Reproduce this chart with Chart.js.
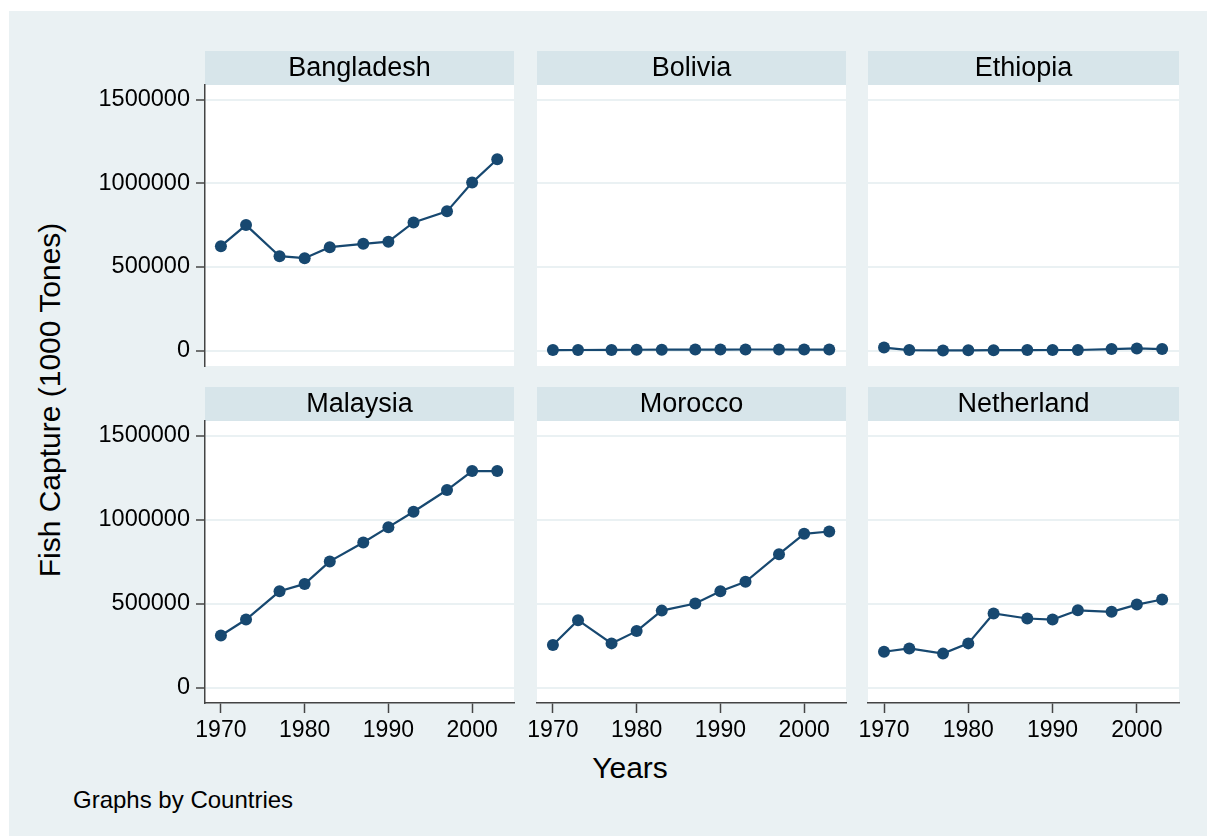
<!DOCTYPE html>
<html>
<head>
<meta charset="utf-8">
<title>Fish Capture by Country</title>
<script src="https://cdn.jsdelivr.net/npm/chart.js@4.4.1/dist/chart.umd.min.js"></script>
<style>
  html, body { margin: 0; padding: 0; background: #ffffff; }
  body { width: 1207px; height: 836px; position: relative; overflow: hidden;
         font-family: "Liberation Sans", Arial, Helvetica, sans-serif; color: #000; }
  #frame { position: absolute; left: 9px; top: 11px; width: 1198px; height: 825px; background: #eaf1f3; }
  canvas { position: absolute; }
  .txt { position: absolute; white-space: nowrap; color: #000; }
  #ytitle { left: 50px; top: 400px; font-size: 30px; line-height: 30px;
            transform: translate(-50%, -50%) rotate(-90deg); }
  #xtitle { left: 630px; top: 753px; font-size: 30px; line-height: 30px; transform: translateX(-50%); }
  #note { left: 73px; top: 788px; font-size: 24px; line-height: 24px; }
</style>
</head>
<body>
<div id="frame"></div>
<div class="txt" id="ytitle">Fish Capture (1000 Tones)</div>
<div class="txt" id="xtitle">Years</div>
<div class="txt" id="note">Graphs by Countries</div>

<script>
// ---- data ----
const years = [1970, 1973, 1977, 1980, 1983, 1987, 1990, 1993, 1997, 2000, 2003];
const countries = ['Bangladesh', 'Bolivia', 'Ethiopia', 'Malaysia', 'Morocco', 'Netherland'];

const bangladesh = [624000, 750000, 564000, 552000, 618000, 638000, 651000, 766000, 832000, 1004000, 1143000];
const bolivia    = [3000, 3500, 4000, 5000, 5500, 6000, 6000, 6500, 6500, 6000, 6000];
const ethiopia   = [18000, 3000, 1000, 1500, 2500, 3000, 3500, 3500, 9000, 13000, 9000];
const malaysia   = [310000, 405000, 573000, 617000, 751000, 864000, 955000, 1047000, 1176000, 1289000, 1289000];
const morocco    = [253000, 401000, 263000, 336000, 458000, 500000, 573000, 630000, 794000, 915000, 929000];
const netherland = [213000, 233000, 202000, 263000, 441000, 411000, 405000, 460000, 451000, 494000, 524000];

const seriesByCountry = [bangladesh, bolivia, ethiopia, malaysia, morocco, netherland];

const yTicks = [0, 500000, 1000000, 1500000];
const xTicks = [1970, 1980, 1990, 2000];

// ---- styling ----
const FONT = '"Liberation Sans", Arial, Helvetica, sans-serif';
const NAVY = '#174870';
const GRID = '#eaf1f3';
const STRIP = '#d7e5ea';
const AXIS = '#444444';
const STRIP_H = 34;

Chart.defaults.font.family = FONT;
Chart.defaults.color = '#000000';

// panel placement (plot-area edges on the page)
const colLeft  = [205, 537, 868];
const colRight = [516, 848, 1181];
const rowStripTop = [51, 387];
const rowPlotBottom = [368, 703];
const Y_AXIS_W = 125;
const X_AXIS_H = 42;

// white plot area plus the shaded title strip above it
const panelFrame = {
  id: 'panelFrame',
  beforeDraw(chart, args, opts) {
    const { ctx, chartArea: a } = chart;
    ctx.save();
    ctx.fillStyle = '#ffffff';
    ctx.fillRect(a.left, a.top, a.right - a.left, a.bottom - a.top);
    ctx.fillStyle = STRIP;
    ctx.fillRect(a.left, a.top - STRIP_H, a.right - a.left, STRIP_H);
    ctx.fillStyle = '#000000';
    ctx.font = '27px ' + FONT;
    ctx.textAlign = 'center';
    ctx.textBaseline = 'alphabetic';
    ctx.fillText(opts.title, (a.left + a.right) / 2, a.top - 9);
    ctx.restore();
  }
};

countries.forEach((name, i) => {
  const row = Math.floor(i / 3);
  const col = i % 3;
  const firstCol = col === 0;
  const bottomRow = row === 1;

  const padL = firstCol ? 0 : 20;
  const padR = 4;
  const padB = bottomRow ? 0 : 4;
  const canvasLeft = colLeft[col] - (firstCol ? Y_AXIS_W : padL);
  const canvasTop = rowStripTop[row];
  const width = colRight[col] - canvasLeft + padR;
  const height = rowPlotBottom[row] - canvasTop + (bottomRow ? X_AXIS_H : padB);

  const canvas = document.createElement('canvas');
  canvas.width = width;
  canvas.height = height;
  canvas.style.left = canvasLeft + 'px';
  canvas.style.top = canvasTop + 'px';
  document.body.appendChild(canvas);

  new Chart(canvas, {
    type: 'line',
    data: {
      labels: years,
      datasets: [{
        label: name,
        data: years.map((yr, k) => ({ x: yr, y: seriesByCountry[i][k] })),
        borderColor: NAVY,
        backgroundColor: NAVY,
        borderWidth: 2.2,
        pointRadius: 6,
        pointHoverRadius: 6,
        pointBackgroundColor: NAVY,
        pointBorderWidth: 0,
        tension: 0,
        clip: false
      }]
    },
    options: {
      responsive: false,
      animation: false,
      events: [],
      layout: { padding: { top: STRIP_H, left: padL, right: padR, bottom: padB } },
      plugins: {
        legend: { display: false },
        tooltip: { enabled: false },
        title: { display: false },
        panelFrame: { title: name }
      },
      scales: {
        x: {
          type: 'linear',
          min: 1968.1,
          max: 2005,
          display: bottomRow,
          afterBuildTicks: s => { s.ticks = xTicks.map(v => ({ value: v })); },
          afterFit: s => { s.height = bottomRow ? X_AXIS_H : 0; },
          grid: { drawOnChartArea: false, drawTicks: true, tickLength: 10,
                  tickColor: AXIS, tickWidth: 1.5 },
          border: { display: true, color: AXIS, width: 1.5 },
          ticks: { font: { size: 23 }, color: '#000000', padding: 4,
                   maxRotation: 0, autoSkip: false, callback: v => String(v) }
        },
        y: {
          type: 'linear',
          min: -92000,
          max: 1587000,
          afterBuildTicks: s => { s.ticks = yTicks.map(v => ({ value: v })); },
          afterFit: s => {
            s.width = firstCol ? Y_AXIS_W : 0;
            s.paddingTop = 0;
            s.paddingBottom = 0;
          },
          grid: { color: GRID, lineWidth: 2, drawTicks: firstCol, tickLength: 9,
                  tickColor: AXIS, tickWidth: 1.5 },
          border: { display: firstCol, color: AXIS, width: 1.5 },
          ticks: { display: firstCol, font: { size: 23.5 }, color: '#000000', padding: 6,
                   autoSkip: false, callback: v => String(v) }
        }
      }
    },
    plugins: [panelFrame]
  });
});
</script>
</body>
</html>
